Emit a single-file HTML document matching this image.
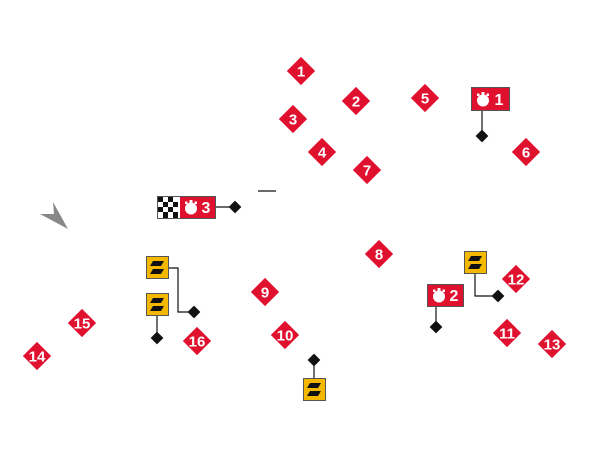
<!DOCTYPE html>
<html><head><style>
html,body{margin:0;padding:0;background:#fff;width:600px;height:475px;overflow:hidden}
svg text{font-family:"Liberation Sans",sans-serif;font-weight:bold;fill:#fff}
</style></head><body>
<svg width="600" height="475" viewBox="0 0 600 475" xmlns="http://www.w3.org/2000/svg">
<defs>
<g id="d"><rect x="-10" y="-10" width="20" height="20" fill="#e0102f" transform="rotate(45)"/></g>
<g id="k"><rect x="-4.5" y="-4.5" width="9" height="9" fill="#111" transform="rotate(45)"/></g>
<g id="y"><rect x="0.5" y="0.5" width="22" height="22" fill="#f5b800" stroke="#555" stroke-width="1"/>
<polygon points="7,5 18,5 15,10 4,10" fill="#111"/><polygon points="7,13 18,13 15,18 4,18" fill="#111"/></g>
<g id="sw"><circle cx="0" cy="1.5" r="6" fill="#fff"/><rect x="-1.5" y="-7" width="3" height="3" fill="#fff"/><rect x="-6" y="-5.5" width="2.5" height="2.5" fill="#fff"/><rect x="3.5" y="-5.5" width="2.5" height="2.5" fill="#fff"/></g>
</defs>
<polygon points="53,202 68,229 40,214 54,214" fill="#888"/>
<line x1="258" y1="191" x2="276" y2="191" stroke="#111" stroke-width="1.2"/>
<g font-size="15" text-anchor="middle">
<use href="#d" x="301" y="71"/><text x="301" y="76.5">1</text>
<use href="#d" x="356" y="101"/><text x="356" y="106.5">2</text>
<use href="#d" x="293" y="119"/><text x="293" y="124.5">3</text>
<use href="#d" x="322" y="152"/><text x="322" y="157.5">4</text>
<use href="#d" x="425" y="98"/><text x="425" y="103.5">5</text>
<use href="#d" x="526" y="152"/><text x="526" y="157.5">6</text>
<use href="#d" x="367" y="170"/><text x="367" y="175.5">7</text>
<use href="#d" x="379" y="254"/><text x="379" y="259.5">8</text>
<use href="#d" x="265" y="292"/><text x="265" y="297.5">9</text>
<use href="#d" x="285" y="335"/><text x="285" y="340.5">10</text>
<use href="#d" x="507" y="333"/><text x="507" y="338.5">11</text>
<use href="#d" x="516" y="279"/><text x="516" y="284.5">12</text>
<use href="#d" x="552" y="344"/><text x="552" y="349.5">13</text>
<use href="#d" x="37" y="356"/><text x="37" y="361.5">14</text>
<use href="#d" x="82" y="323"/><text x="82" y="328.5">15</text>
<use href="#d" x="197" y="341"/><text x="197" y="346.5">16</text>
</g>
<line x1="482" y1="110" x2="482" y2="136" stroke="#111" stroke-width="1.2"/><use href="#k" x="482" y="136"/>
<rect x="471.5" y="87.5" width="38" height="23" fill="#e0102f" stroke="#555"/>
<use href="#sw" x="483" y="99"/><text x="499" y="105" font-size="16" text-anchor="middle">1</text>
<line x1="436" y1="306" x2="436" y2="327" stroke="#111" stroke-width="1.2"/><use href="#k" x="436" y="327"/>
<rect x="427.5" y="284.5" width="36" height="22" fill="#e0102f" stroke="#555"/>
<use href="#sw" x="439" y="295"/><text x="454" y="301" font-size="16" text-anchor="middle">2</text>
<line x1="215" y1="207" x2="235" y2="207" stroke="#111" stroke-width="1.2"/><use href="#k" x="235" y="207"/>
<g>
<rect x="157.5" y="196.5" width="58" height="22" fill="#fff" stroke="#555"/>
<g fill="#111">
<rect x="158" y="197" width="5" height="5"/><rect x="168" y="197" width="5" height="5"/>
<rect x="163" y="202" width="5" height="5"/><rect x="173" y="202" width="5" height="5"/>
<rect x="158" y="207" width="5" height="5"/><rect x="168" y="207" width="5" height="5"/>
<rect x="163" y="212" width="5" height="6"/><rect x="173" y="212" width="5" height="6"/>
</g>
<rect x="180" y="197" width="35" height="21" fill="#e0102f"/>
<use href="#sw" x="191" y="207"/><text x="206" y="213" font-size="16" text-anchor="middle">3</text>
</g>
<polyline points="168,268 178,268 178,312 194,312" fill="none" stroke="#111" stroke-width="1.2"/><use href="#k" x="194" y="312"/>
<use href="#y" x="146" y="256"/>
<line x1="157" y1="315" x2="157" y2="338" stroke="#111" stroke-width="1.2"/><use href="#k" x="157" y="338"/>
<use href="#y" x="146" y="293"/>
<line x1="314" y1="360" x2="314" y2="378" stroke="#111" stroke-width="1.2"/><use href="#k" x="314" y="360"/>
<use href="#y" x="303" y="378"/>
<polyline points="475,273 475,296 498,296" fill="none" stroke="#111" stroke-width="1.2"/><use href="#k" x="498" y="296"/>
<use href="#y" x="464" y="251"/>
</svg>
</body></html>
